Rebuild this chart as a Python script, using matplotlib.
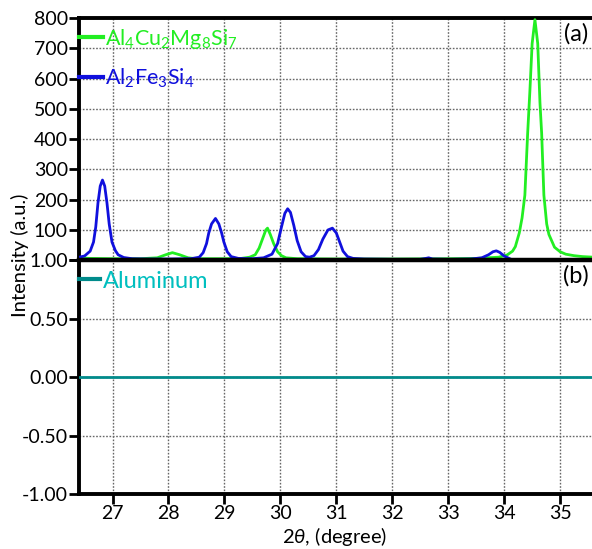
import matplotlib
matplotlib.use("Agg")
import matplotlib.pyplot as plt
import numpy as np

plt.rcParams['font.family'] = ['Lato', 'DejaVu Sans']
plt.rcParams['mathtext.fontset'] = 'custom'
plt.rcParams['mathtext.rm'] = 'Lato'
plt.rcParams['mathtext.it'] = 'Lato:italic'

# Al2Fe3Si4 pattern
fe_x = [26.40, 26.50, 26.60, 26.66, 26.70, 26.74, 26.78, 26.82, 26.86, 26.90, 26.94, 26.99,
        27.05, 27.10, 27.20, 27.35, 27.60, 28.00, 28.40, 28.55, 28.62, 28.68, 28.72, 28.77,
        28.84, 28.90, 28.95, 28.99, 29.05, 29.12, 29.25, 29.50, 29.70, 29.85, 29.95, 30.02,
        30.08, 30.13, 30.18, 30.24, 30.30, 30.37, 30.45, 30.52, 30.60, 30.68, 30.76, 30.85,
        30.93, 31.00, 31.06, 31.12, 31.20, 31.30, 31.50, 32.00, 32.50, 32.60, 32.65, 32.72,
        33.00, 33.40, 33.60, 33.72, 33.80, 33.86, 33.92, 34.00, 34.10]
fe_y = [10, 14, 30, 60, 110, 190, 245, 265, 245, 190, 120, 60,
        32, 18, 9, 5, 4, 4, 5, 10, 25, 55, 90, 120,
        138, 120, 90, 60, 28, 12, 6, 5, 8, 20, 55, 110,
        155, 170, 158, 115, 65, 28, 12, 10, 15, 35, 70, 100,
        106, 90, 60, 30, 12, 6, 4, 3, 3, 6, 8, 4,
        3, 4, 8, 18, 28, 31, 26, 14, 5]

# Al4Cu2Mg8Si7 pattern
cu_x = [26.40, 26.60, 27.00, 27.50, 27.80, 27.95, 28.07, 28.20, 28.35, 28.50, 29.00, 29.30,
        29.45, 29.55, 29.62, 29.68, 29.74, 29.77, 29.82, 29.88, 29.95, 30.02, 30.10, 30.30,
        31.00, 32.00, 33.00, 33.50, 33.90, 34.05, 34.15, 34.20, 34.27, 34.32, 34.37, 34.42,
        34.46, 34.50, 34.55, 34.60, 34.64, 34.67, 34.71, 34.76, 34.80, 34.90, 35.00, 35.10,
        35.25, 35.40, 35.60]
cu_y = [8, 6, 5, 5, 8, 18, 25, 18, 8, 5, 5, 6,
        10, 18, 40, 70, 100, 106, 85, 55, 28, 15, 8, 5,
        4, 4, 5, 6, 10, 17, 30, 45, 90, 140, 215, 420,
        560, 716, 795, 716, 520, 420, 215, 120, 85, 43, 28, 20,
        15, 12, 10]

# Aluminum
al_x = [26.4, 35.6]
al_y = [0, 0]

top_ticks = [0, 100, 200, 300, 400, 500, 600, 700, 800]
top_labels = ['', '100', '200', '300', '400', '500', '600', '700', '800']
bot_ticks = [-1.0, -0.5, 0.0, 0.5, 1.0]
bot_labels = ['-1.00', '-0.50', '0.00', '0.50', '1.00']
x_ticks = [27, 28, 29, 30, 31, 32, 33, 34, 35]

fig = plt.figure(figsize=(5.92, 5.49), dpi=100)
ax1 = fig.add_axes([0.1334, 0.526, 0.8666, 0.441])
ax2 = fig.add_axes([0.1334, 0.100, 0.8666, 0.426])

grid_kw = dict(color='#666666', linestyle=(0, (1.2, 1.2)), linewidth=1.0)

ax1.plot(cu_x, cu_y, color='#22EE22', lw=2.0, label=r'Al$_4$Cu$_2$Mg$_8$Si$_7$', zorder=3)
ax1.plot(fe_x, fe_y, color='#1010DD', lw=2.0, label=r'Al$_2$Fe$_3$Si$_4$', zorder=4)
ax1.set_xlim(26.4, 35.57)
ax1.set_ylim(0, 800)
ax1.set_yticks(top_ticks)
ax1.set_yticklabels(top_labels)
ax1.set_xticks(x_ticks)
ax1.tick_params(axis='x', length=0, labelbottom=False)

ax2.plot(al_x, al_y, color='#008B8B', lw=2.0, label='Aluminum', zorder=3)
ax2.set_xlim(26.4, 35.57)
ax2.set_ylim(-1, 1)
ax2.set_yticks(bot_ticks)
ax2.set_yticklabels(bot_labels)
ax2.set_xticks(x_ticks)

for ax in (ax1, ax2):
    ax.set_axisbelow(True)
    ax.grid(True, **grid_kw)
    ax.spines['right'].set_visible(False)
    for s in ('left', 'top', 'bottom'):
        ax.spines[s].set_linewidth(2.8)
    ax.tick_params(axis='both', direction='out', length=7, width=2, labelsize=14, pad=1)

ax1.spines['bottom'].set_visible(False)
ax2.spines['top'].set_linewidth(3.2)

leg1 = ax1.legend(loc='upper left', bbox_to_anchor=(0.0, 0.965), frameon=False,
                  fontsize=15.5, handlelength=1.1, handletextpad=0.1, borderaxespad=0,
                  borderpad=0, labelspacing=0.75)
for t, c in zip(leg1.get_texts(), ['#22EE22', '#1010DD']):
    t.set_color(c)
for h in leg1.get_lines():
    h.set_linewidth(3)

leg2 = ax2.legend(loc='upper left', bbox_to_anchor=(0.0, 0.955), frameon=False,
                  fontsize=17, handlelength=0.9, handletextpad=0.1, borderaxespad=0,
                  borderpad=0)
leg2.get_texts()[0].set_color('#00BFBF')
leg2.get_lines()[0].set_linewidth(3)

ax1.text(0.993, 0.935, '(a)', transform=ax1.transAxes, ha='right', va='center', fontsize=17)
ax2.text(0.993, 0.935, '(b)', transform=ax2.transAxes, ha='right', va='center', fontsize=17)

fig.text(0.033, 0.535, 'Intensity (a.u.)', rotation=90, ha='center', va='center', fontsize=14.5)
fig.text(0.566, 0.022, r'2$\theta$, (degree)', ha='center', va='center', fontsize=14.5)

fig.savefig('out.png', dpi=100)
